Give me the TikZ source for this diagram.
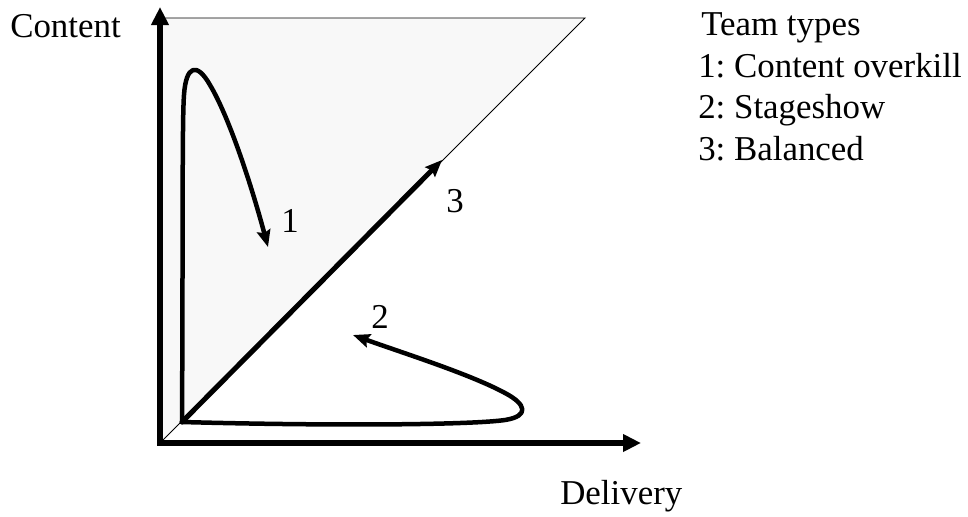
\documentclass[tikz,border=0pt]{standalone}
\usepackage{fontspec}
\setmainfont{Liberation Serif}
\usepackage{tikz}
\usetikzlibrary{arrows.meta}
\definecolor{zonecol}{RGB}{248,248,248}
\definecolor{inkcol}{RGB}{0,0,0}
\newcommand{\figfont}{\frenchspacing\fontsize{24.8}{29.4}\selectfont}

\begin{document}
\begin{tikzpicture}[
    x=0.025cm, y=-0.025cm,
    axis/.style={-{Triangle[length=0.45cm, width=0.42cm]}, line width=4.2pt, inkcol},
    trail/.style={-{Stealth[length=0.42cm, width=0.34cm, inset=0.06cm]}, line width=3.2pt, inkcol,
        line cap=round, line join=round},
    thin/.style={line width=0.7pt, inkcol},
    lbl/.style={font=\figfont, text=inkcol, inner sep=0pt},
]

\path[use as bounding box] (0,0) rectangle (968,516);

% ════════════════════════════════════════════════════════
% 0. KEY POINTS
% ════════════════════════════════════════════════════════
\coordinate (O)    at (160,443);   % corner of the axes
\coordinate (S)    at (182,422);   % common start of the three paths
\coordinate (TOP)  at (160,18);
\coordinate (TR)   at (585,18);
\coordinate (YEND) at (160,7);
\coordinate (XEND) at (641,443);

% ════════════════════════════════════════════════════════
% 1. SHADED ZONE ABOVE THE DIAGONAL
% ════════════════════════════════════════════════════════
\fill[zonecol] (O) -- (TOP) -- (TR) -- cycle;
\draw[thin] (TOP) -- (TR) -- (O);

% ════════════════════════════════════════════════════════
% 2. AXES
% ════════════════════════════════════════════════════════
\draw[axis] (O) -- (YEND);
\draw[axis] ([xshift=-2.1pt]O) -- (XEND);

\node[lbl, anchor=base west] (ylab) at (10,37)  {Content};
\node[lbl, anchor=base west] (xlab) at (560,504) {Delivery};

% ════════════════════════════════════════════════════════
% 3. TEAM PATHS
% ════════════════════════════════════════════════════════
% ── 1: content overkill (up the content axis, then falls back)
\coordinate (T1) at (268,247);
\draw[trail] (S)
    .. controls (183,250) and (182,120) .. (184,95)
    .. controls (186,65)  and (197,62)  .. (210,85)
    .. controls (228,115) and (250,180) .. (T1);

% ── 2: stageshow (along the delivery axis, then loops back)
\coordinate (T2) at (353,335);
\draw[trail] (S)
    .. controls (330,426) and (470,425) .. (505,420)
    .. controls (530,416) and (526,404) .. (505,393)
    .. controls (470,374) and (400,352) .. (T2);

% ── 3: balanced (straight up the diagonal)
\coordinate (T3) at (442,160);
\draw[trail, line width=3.6pt] (S) -- (T3);

% ── path numbers
\node[lbl, anchor=base] (n1) at (290,232) {1};
\node[lbl, anchor=base] (n2) at (380,328) {2};
\node[lbl, anchor=base] (n3) at (455,212) {3};

% ════════════════════════════════════════════════════════
% 4. LEGEND
% ════════════════════════════════════════════════════════
\node[lbl, anchor=base west] (leg0) at (701,35)  {Team types};
\node[lbl, anchor=base west] (leg1) at (698,77)  {1: Content overkill};
\node[lbl, anchor=base west] (leg2) at (698,118) {2: Stageshow};
\node[lbl, anchor=base west] (leg3) at (698,160) {3: Balanced};

\end{tikzpicture}
\end{document}
